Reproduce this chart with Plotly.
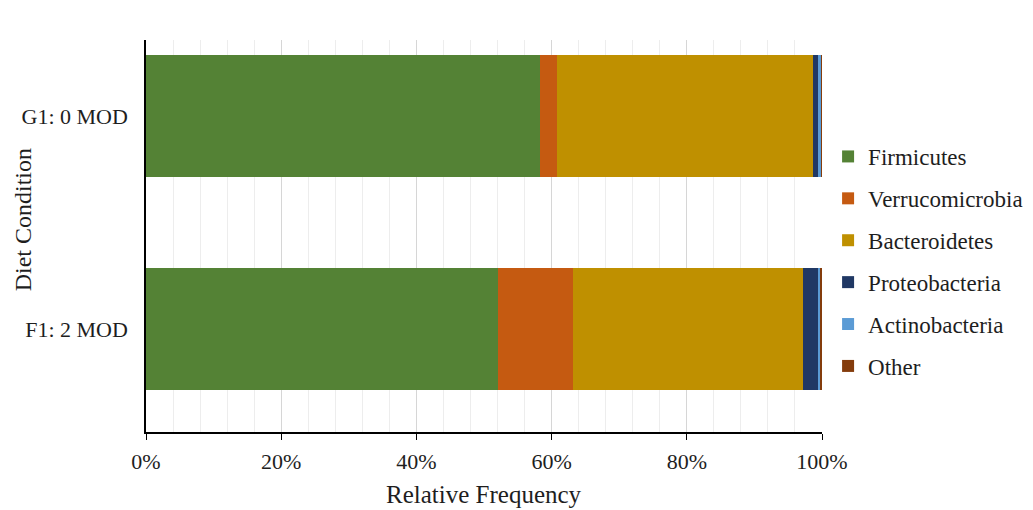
import plotly.graph_objects as go

categories = ["F1: 2 MOD", "G1: 0 MOD"]
phyla = ["Firmicutes", "Verrucomicrobia", "Bacteroidetes", "Proteobacteria", "Actinobacteria", "Other"]
values = {
    "Firmicutes":      [52.1, 58.3],
    "Verrucomicrobia": [11.1, 2.5],
    "Bacteroidetes":   [34.0, 37.9],
    "Proteobacteria":  [2.3, 0.7],
    "Actinobacteria":  [0.2, 0.5],
    "Other":           [0.3, 0.1],
}
colors = ["#548235", "#C55A11", "#BF9000", "#203864", "#5B9BD5", "#843C0C"]
x_ticks = [0, 20, 40, 60, 80, 100]
x_tick_text = ["0%", "20%", "40%", "60%", "80%", "100%"]

fig = go.Figure()
for name, col in zip(phyla, colors):
    fig.add_trace(go.Bar(
        y=categories, x=values[name], name=name, orientation="h",
        marker=dict(color=col, line=dict(width=0)),
        legendgroup=name,
    ))

font = "Liberation Serif, Times New Roman, serif"
txt = "#1e1e1e"
fig.update_layout(
    barmode="stack",
    bargap=0.427,
    width=1033, height=510,
    margin=dict(l=146, r=211, t=40, b=78, autoexpand=False),
    paper_bgcolor="white", plot_bgcolor="white",
    font=dict(family=font, size=22, color=txt),
    legend=dict(
        x=1.009, xanchor="left", y=0.435, yanchor="middle",
        traceorder="grouped", tracegroupgap=9,
        font=dict(family=font, size=23, color=txt),
        itemwidth=30,
    ),
    showlegend=True,
    annotations=[
        dict(text="Relative Frequency", xref="paper", yref="paper",
             x=0.5, y=0, yshift=-62, xanchor="center", yanchor="middle",
             showarrow=False, font=dict(family=font, size=25, color=txt)),
        dict(text="Diet Condition", xref="paper", yref="paper",
             x=0, xshift=-123, y=0.54, xanchor="center", yanchor="middle",
             textangle=-90, showarrow=False,
             font=dict(family=font, size=24, color=txt)),
    ],
)
fig.update_xaxes(
    range=[0, 100], tickvals=x_ticks, ticktext=x_tick_text,
    showgrid=True, gridcolor="#d6d6d6", gridwidth=1,
    minor=dict(dtick=4, showgrid=True, gridcolor="#ededed", gridwidth=1),
    showline=True, linecolor="black", linewidth=1.5,
    ticks="outside", ticklen=6, tickcolor="black",
    ticklabelstandoff=3,
    zeroline=False,
)
fig.update_yaxes(
    range=[-0.484, 1.357],
    showline=True, linecolor="black", linewidth=1.5,
    showgrid=False, ticks="", ticklabelstandoff=12,
)
fig.write_html("out.html")
